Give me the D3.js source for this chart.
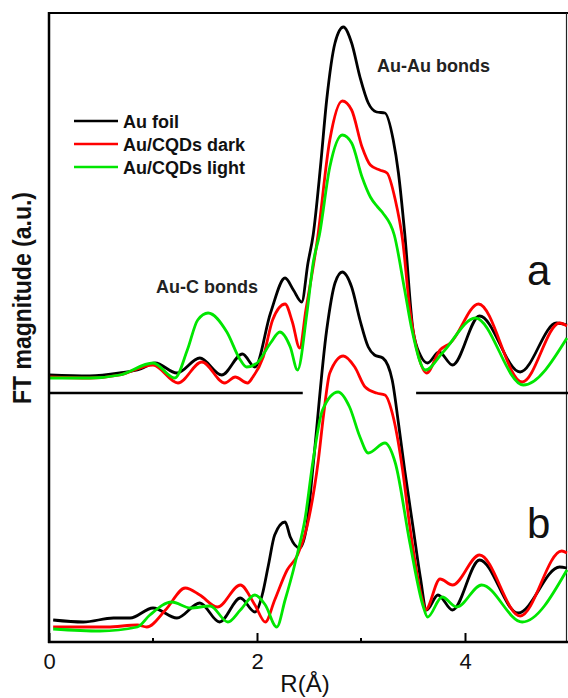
<!DOCTYPE html>
<html>
<head>
<meta charset="utf-8">
<script src="https://cdn.jsdelivr.net/npm/d3@7"></script>
<style>
  body { margin: 0; background: #fff; }
  svg { display: block; font-family: Arial, "Liberation Sans", sans-serif; }
</style>
</head>
<body>
<svg id="chart"></svg>
<script>
// R (Å) and FT magnitude pairs, panel a sits above panel b
const auFoilA = [[0,2.67],[0.39,2.66],[0.68,2.69],[0.88,2.73],[1.02,2.79],[1.23,2.69],[1.45,2.84],[1.66,2.67],[1.86,2.88],[1.98,2.75],[2.13,3.29],[2.27,3.64],[2.35,3.52],[2.43,3.40],[2.49,3.79],[2.54,4.07],[2.61,4.75],[2.67,5.42],[2.75,5.99],[2.83,6.15],[2.91,5.99],[2.99,5.65],[3.07,5.39],[3.15,5.30],[3.23,5.29],[3.31,5.02],[3.36,4.69],[3.42,4.09],[3.50,3.12],[3.57,2.87],[3.64,2.79],[3.75,2.90],[3.88,2.77],[4.14,3.26],[4.53,2.70],[4.88,3.19],[4.98,3.17]];
const darkA = [[0,2.65],[0.39,2.64],[0.68,2.67],[1.00,2.77],[1.24,2.59],[1.47,2.80],[1.69,2.59],[1.79,2.65],[1.91,2.59],[1.96,2.65],[2.06,2.85],[2.15,3.22],[2.27,3.38],[2.34,3.20],[2.41,2.94],[2.47,3.32],[2.58,4.02],[2.70,5.02],[2.82,5.41],[2.91,5.32],[3.01,4.95],[3.09,4.77],[3.18,4.72],[3.25,4.69],[3.33,4.42],[3.40,4.02],[3.47,3.32],[3.55,2.87],[3.63,2.69],[3.76,2.92],[3.86,2.99],[4.13,3.38],[4.55,2.60],[4.91,3.19],[4.98,3.16]];
const lightA = [[0,2.64],[0.39,2.64],[0.68,2.67],[1.00,2.79],[1.21,2.64],[1.33,2.92],[1.43,3.22],[1.53,3.29],[1.71,3.10],[1.84,2.82],[1.90,2.75],[2.00,2.79],[2.13,2.99],[2.22,3.10],[2.32,2.95],[2.39,2.72],[2.48,3.29],[2.54,3.79],[2.60,4.07],[2.70,4.75],[2.82,5.07],[2.91,4.99],[3.01,4.65],[3.09,4.45],[3.16,4.35],[3.21,4.29],[3.32,4.07],[3.42,3.52],[3.49,3.12],[3.62,2.72],[3.79,2.90],[4.10,3.24],[4.56,2.57],[4.98,3.04]];

const auFoilB = [[0.04,0.22],[0.33,0.20],[0.62,0.24],[0.78,0.24],[1.00,0.34],[1.23,0.24],[1.45,0.39],[1.64,0.20],[1.84,0.44],[1.98,0.30],[2.05,0.47],[2.11,0.77],[2.17,1.07],[2.27,1.20],[2.32,1.05],[2.41,0.94],[2.48,1.17],[2.54,1.77],[2.67,3.12],[2.75,3.59],[2.82,3.70],[2.91,3.55],[2.99,3.22],[3.07,2.95],[3.13,2.87],[3.21,2.84],[3.30,2.62],[3.36,2.19],[3.42,1.72],[3.50,1.15],[3.57,0.65],[3.63,0.32],[3.74,0.47],[3.88,0.32],[4.14,0.82],[4.51,0.29],[4.91,0.75],[4.98,0.74]];
const darkB = [[0.04,0.15],[0.56,0.15],[0.85,0.17],[0.94,0.15],[1.12,0.32],[1.31,0.54],[1.45,0.47],[1.62,0.35],[1.84,0.57],[1.98,0.37],[2.08,0.20],[2.17,0.42],[2.29,0.72],[2.39,0.87],[2.48,1.15],[2.59,1.82],[2.64,2.27],[2.70,2.69],[2.83,2.86],[2.94,2.75],[3.04,2.55],[3.15,2.49],[3.23,2.47],[3.31,2.25],[3.40,1.72],[3.47,1.15],[3.59,0.42],[3.62,0.32],[3.76,0.63],[3.88,0.57],[4.14,0.87],[4.53,0.26],[4.93,0.91],[4.98,0.89]];
const lightB = [[0.04,0.13],[0.49,0.11],[0.85,0.15],[0.97,0.27],[1.18,0.40],[1.36,0.34],[1.55,0.36],[1.72,0.20],[1.84,0.32],[1.98,0.47],[2.08,0.37],[2.19,0.15],[2.27,0.42],[2.35,0.72],[2.39,0.89],[2.46,1.22],[2.54,1.82],[2.63,2.32],[2.78,2.50],[2.89,2.35],[2.99,2.05],[3.07,1.89],[3.23,1.99],[3.33,1.79],[3.47,0.99],[3.60,0.35],[3.64,0.25],[3.78,0.45],[3.92,0.35],[4.16,0.57],[4.55,0.20],[4.98,0.72]];

const seriesNames = ['Au foil', 'Au/CQDs dark', 'Au/CQDs light'];
const seriesColors = ['#000000', '#ff0000', '#00e600'];
const majorTicks = [0, 2, 4];
const minorTicks = [1, 3, 5];

const width = 568, height = 698;
const margin = {top: 13, right: 1, bottom: 56, left: 49};

const svg = d3.select('#chart')
    .attr('width', width)
    .attr('height', height);

// scales: 0..5 Å across the frame, arbitrary magnitude units up the side
const x = d3.scaleLinear().domain([0, 5]).range([margin.left, margin.left + 520]);
const y = d3.scaleLinear().domain([0, 6.29]).range([height - margin.bottom, margin.top]);

const line = d3.line()
    .x(d => x(d[0]))
    .y(d => y(d[1]))
    .curve(d3.curveMonotoneX);

// frame: top and right border
svg.append('line')
    .attr('x1', margin.left).attr('x2', width)
    .attr('y1', margin.top).attr('y2', margin.top)
    .attr('stroke', '#000').attr('stroke-width', 2);
svg.append('line')
    .attr('x1', width - 1.5).attr('x2', width - 1.5)
    .attr('y1', margin.top).attr('y2', y(0))
    .attr('stroke', '#222').attr('stroke-width', 1.2);

// separator between panel a and panel b (broken under the main peak)
[[0, 2.44], [3.53, 5]].forEach(seg => {
  svg.append('line')
      .attr('x1', x(seg[0])).attr('x2', x(seg[1]))
      .attr('y1', y(2.49)).attr('y2', y(2.49))
      .attr('stroke', '#000').attr('stroke-width', 2.5);
});

// curves, black underneath, green on top
const panels = [[auFoilA, darkA, lightA], [auFoilB, darkB, lightB]];
panels.forEach(panel => {
  panel.forEach((data, i) => {
    svg.append('path')
        .datum(data)
        .attr('fill', 'none')
        .attr('stroke', seriesColors[i])
        .attr('stroke-width', 2.8)
        .attr('stroke-linejoin', 'round')
        .attr('d', line);
  });
});

// x axis with inward ticks
const xAxis = svg.append('g')
    .attr('transform', `translate(0,${y(0)})`)
    .call(d3.axisBottom(x)
      .tickValues(majorTicks)
      .tickFormat(d3.format('d'))
      .tickSizeInner(-9).tickSizeOuter(0).tickPadding(11));
xAxis.select('.domain').remove();
xAxis.selectAll('.tick line').attr('stroke-width', 2);
xAxis.selectAll('text').attr('font-size', 22).attr('fill', '#111');
svg.append('g')
    .attr('transform', `translate(0,${y(0)})`)
    .selectAll('line')
    .data(minorTicks)
    .join('line')
      .attr('x1', d => x(d)).attr('x2', d => x(d))
      .attr('y1', 0).attr('y2', -4)
      .attr('stroke', '#000').attr('stroke-width', 2);

// axis lines
svg.append('line')
    .attr('x1', margin.left - 1).attr('x2', width)
    .attr('y1', y(0)).attr('y2', y(0))
    .attr('stroke', '#000').attr('stroke-width', 2.5);
svg.append('line')
    .attr('x1', margin.left).attr('x2', margin.left)
    .attr('y1', margin.top - 1).attr('y2', y(0) + 1)
    .attr('stroke', '#000').attr('stroke-width', 2.5);

// axis titles
svg.append('text')
    .attr('x', 305).attr('y', 692)
    .attr('text-anchor', 'middle')
    .attr('font-size', 24)
    .attr('fill', '#111')
    .text('R(Å)');
svg.append('text')
    .attr('transform', 'translate(31,298) scale(1.15,1) rotate(-90)')
    .attr('text-anchor', 'middle')
    .attr('font-size', 23)
    .attr('font-weight', 'bold')
    .attr('fill', '#111')
    .text('FT magnitude (a.u.)');

// annotations
svg.append('text')
    .attr('x', 377).attr('y', 72)
    .attr('font-size', 18).attr('font-weight', 'bold').attr('fill', '#222')
    .text('Au-Au bonds');
svg.append('text')
    .attr('x', 156).attr('y', 293)
    .attr('font-size', 18).attr('font-weight', 'bold').attr('fill', '#222')
    .text('Au-C bonds');
svg.append('text')
    .attr('x', 527).attr('y', 285)
    .attr('font-size', 42).attr('fill', '#111')
    .text('a');
svg.append('text')
    .attr('x', 527).attr('y', 538)
    .attr('font-size', 42).attr('fill', '#111')
    .text('b');

// legend
const legend = svg.append('g').attr('transform', 'translate(74,121)');
seriesNames.forEach((name, i) => {
  const row = legend.append('g').attr('transform', `translate(0,${i * 23})`);
  row.append('line')
      .attr('x1', 0).attr('x2', 44)
      .attr('stroke', seriesColors[i])
      .attr('stroke-width', 2.5);
  row.append('text')
      .attr('x', 49).attr('y', 6.5)
      .attr('font-size', 18).attr('font-weight', 'bold').attr('fill', '#111')
      .text(name);
});
</script>
</body>
</html>
